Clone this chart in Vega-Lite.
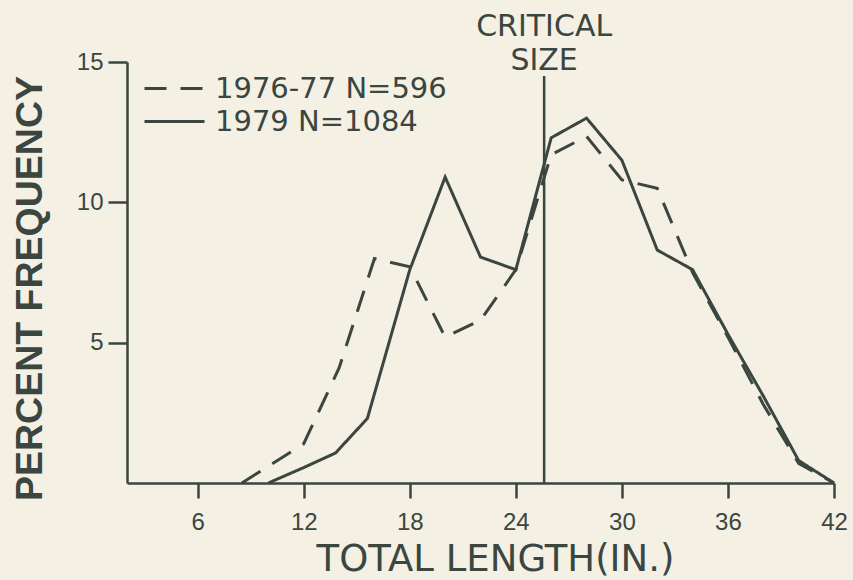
{
  "$schema": "https://vega.github.io/schema/vega-lite/v6.json",
  "width": 707,
  "height": 421,
  "autosize": {"type": "none"},
  "padding": {"left": 127, "top": 62, "right": 19, "bottom": 97},
  "background": "#f4f0e4",
  "config": {"view": {"stroke": null}, "font": "DejaVu Sans"},
  "datasets": {
    "series": [
      {"series": "1976-77 N=596", "length": 8.5, "percent": 0},
      {"series": "1976-77 N=596", "length": 12, "percent": 1.4},
      {"series": "1976-77 N=596", "length": 14, "percent": 4.1},
      {"series": "1976-77 N=596", "length": 16, "percent": 8.0},
      {"series": "1976-77 N=596", "length": 18, "percent": 7.7},
      {"series": "1976-77 N=596", "length": 20, "percent": 5.2},
      {"series": "1976-77 N=596", "length": 22, "percent": 5.8},
      {"series": "1976-77 N=596", "length": 24, "percent": 7.6},
      {"series": "1976-77 N=596", "length": 26, "percent": 11.7},
      {"series": "1976-77 N=596", "length": 28, "percent": 12.35},
      {"series": "1976-77 N=596", "length": 30, "percent": 10.8},
      {"series": "1976-77 N=596", "length": 32, "percent": 10.5},
      {"series": "1976-77 N=596", "length": 34, "percent": 7.5},
      {"series": "1976-77 N=596", "length": 36, "percent": 5.2},
      {"series": "1976-77 N=596", "length": 38, "percent": 2.8},
      {"series": "1976-77 N=596", "length": 40, "percent": 0.7},
      {"series": "1976-77 N=596", "length": 42, "percent": 0},
      {"series": "1979 N=1084", "length": 10, "percent": 0},
      {"series": "1979 N=1084", "length": 12, "percent": 0.55},
      {"series": "1979 N=1084", "length": 13.8, "percent": 1.07},
      {"series": "1979 N=1084", "length": 15.6, "percent": 2.3},
      {"series": "1979 N=1084", "length": 18, "percent": 7.6},
      {"series": "1979 N=1084", "length": 20, "percent": 10.9},
      {"series": "1979 N=1084", "length": 22, "percent": 8.05},
      {"series": "1979 N=1084", "length": 24, "percent": 7.6},
      {"series": "1979 N=1084", "length": 26, "percent": 12.3},
      {"series": "1979 N=1084", "length": 28, "percent": 13.0},
      {"series": "1979 N=1084", "length": 30, "percent": 11.5},
      {"series": "1979 N=1084", "length": 32, "percent": 8.3},
      {"series": "1979 N=1084", "length": 34, "percent": 7.6},
      {"series": "1979 N=1084", "length": 36, "percent": 5.3},
      {"series": "1979 N=1084", "length": 38, "percent": 3.1},
      {"series": "1979 N=1084", "length": 40, "percent": 0.8},
      {"series": "1979 N=1084", "length": 42, "percent": 0}
    ],
    "critical": [{"length": 25.6, "label": ["CRITICAL", "SIZE"]}]
  },
  "layer": [
    {
      "data": {"name": "series"},
      "mark": {"type": "line", "strokeWidth": 3, "color": "#3a463f", "clip": false},
      "encoding": {
        "x": {
          "field": "length",
          "type": "quantitative",
          "scale": {"domain": [2, 42], "nice": false, "zero": false},
          "axis": {
            "values": [6, 12, 18, 24, 30, 36, 42],
            "title": "TOTAL LENGTH(IN.)",
            "grid": false,
            "domainColor": "#3a463f",
            "domainWidth": 2.5,
            "tickColor": "#3a463f",
            "tickWidth": 2.5,
            "tickSize": 15,
            "labelFont": "Liberation Sans",
            "labelFontSize": 24,
            "labelColor": "#3a463f",
            "labelPadding": 12,
            "labelFlush": false,
            "labelOverlap": false,
            "labelBound": false,
            "titleFont": "DejaVu Sans",
            "titleFontSize": 37,
            "titleFontWeight": "normal",
            "titleColor": "#3a463f",
            "titleX": 368,
            "titleY": 87,
            "titleAlign": "center",
            "titleBaseline": "alphabetic"
          }
        },
        "y": {
          "field": "percent",
          "type": "quantitative",
          "scale": {"domain": [0, 15], "nice": false},
          "axis": {
            "values": [5, 10, 15],
            "title": "PERCENT FREQUENCY",
            "grid": false,
            "domainColor": "#3a463f",
            "domainWidth": 2.5,
            "tickColor": "#3a463f",
            "tickWidth": 2.5,
            "tickSize": 19,
            "labelFont": "Liberation Sans",
            "labelFontSize": 24,
            "labelColor": "#3a463f",
            "labelPadding": 5,
            "labelOverlap": false,
            "labelBound": false,
            "titleFont": "Liberation Sans",
            "titleFontSize": 37.5,
            "titleFontWeight": "bold",
            "titleColor": "#3a463f",
            "titleAngle": 270,
            "titleX": -97,
            "titleY": 226,
            "titleAlign": "center",
            "titleBaseline": "middle"
          }
        },
        "strokeDash": {
          "field": "series",
          "type": "nominal",
          "scale": {"domain": ["1976-77 N=596", "1979 N=1084"], "range": [[22, 14], [1, 0]]},
          "legend": {
            "title": null,
            "orient": "none",
            "legendX": 13,
            "legendY": 12,
            "symbolType": "M-1,0H5",
            "symbolSize": 400,
            "symbolStrokeWidth": 3,
            "symbolStrokeColor": "#3a463f",
            "symbolFillColor": "transparent",
            "labelFont": "DejaVu Sans",
            "labelFontSize": 29,
            "labelColor": "#3a463f",
            "labelOffset": 46,
            "labelLimit": 0,
            "rowPadding": 3,
            "padding": 0
          }
        }
      }
    },
    {
      "data": {"name": "critical"},
      "mark": {"type": "rule", "strokeWidth": 2.5, "color": "#3a463f"},
      "encoding": {
        "x": {"field": "length", "type": "quantitative"},
        "y": {"datum": 0},
        "y2": {"datum": 14.5}
      }
    },
    {
      "data": {"name": "critical"},
      "mark": {
        "type": "text",
        "align": "center",
        "baseline": "alphabetic",
        "font": "DejaVu Sans",
        "fontSize": 30,
        "lineHeight": 34,
        "color": "#3a463f",
        "clip": false
      },
      "encoding": {
        "x": {"field": "length", "type": "quantitative"},
        "y": {"datum": 15.92},
        "text": {"field": "label"}
      }
    }
  ]
}
